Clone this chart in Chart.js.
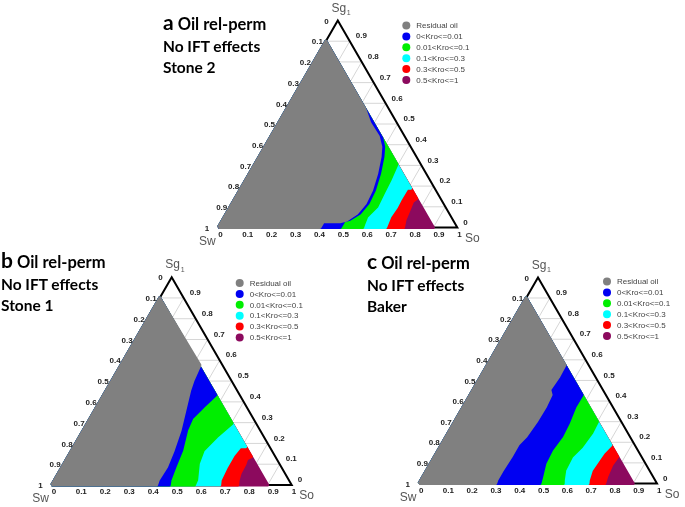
<!DOCTYPE html>
<html>
<head>
<meta charset="utf-8">
<script src="https://cdn.jsdelivr.net/npm/chart.js@4.4.0/dist/chart.umd.min.js"></script>
<style>
  body { margin: 0; background: #fff; width: 685px; height: 507px; position: relative; overflow: hidden; }
  canvas { position: absolute; left: 0; top: 0; }
  .title { position: absolute; font-family: Lato, sans-serif; font-weight: 700; font-size: 15.5px; line-height: 21.5px; color: #000; white-space: nowrap; }
  .title .first { font-size: 16.5px; }
  .title .big { font-size: 21px; }
</style>
</head>
<body>
<canvas id="chartA" width="685" height="507"></canvas>
<canvas id="chartB" width="685" height="507"></canvas>
<canvas id="chartC" width="685" height="507"></canvas>

<div class="title" style="left:163px;top:11px"><div class="first"><span class="big">a</span> Oil rel-perm</div><div>No IFT effects</div><div>Stone 2</div></div>
<div class="title" style="left:1px;top:249px"><div class="first"><span class="big">b</span> Oil rel-perm</div><div>No IFT effects</div><div>Stone 1</div></div>
<div class="title" style="left:367px;top:250px"><div class="first"><span class="big">c</span> Oil rel-perm</div><div>No IFT effects</div><div>Baker</div></div>

<script>
const H = Math.sqrt(3) / 2;

// Tick values shared by the three axes
const tickValues = [0, 0.1, 0.2, 0.3, 0.4, 0.5, 0.6, 0.7, 0.8, 0.9, 1];
const tickText = ['0', '0.1', '0.2', '0.3', '0.4', '0.5', '0.6', '0.7', '0.8', '0.9', '1'];

const legendLabels = ['Residual oil', '0<Kro<=0.01', '0.01<Kro<=0.1', '0.1<Kro<=0.3', '0.3<Kro<=0.5', '0.5<Kro<=1'];
const regionColors = ['#808080', '#0000f2', '#00ee00', '#00ffff', '#ff0000', '#8c0a5e'];

// Connate water: domain is Sw >= 0.1, i.e. So + Sg <= 0.9
const domainEdge = [[0, 0], [0, 0.9], [0.9, 0]];

// Contour boundaries as [So, Sg] pairs, from the Sw=0.1 edge down to Sg=0
// Stone 2
const stone2Residual = [[0.325, 0.575], [0.383, 0.503], [0.45, 0.439], [0.485, 0.39], [0.506, 0.342], [0.532, 0.262], [0.551, 0.181], [0.556, 0.117], [0.545, 0.069], [0.519, 0.036], [0.495, 0.028], [0.425, 0.028], [0.425, 0]];
const stone2Kro001 = [[0.469, 0.431], [0.497, 0.39], [0.518, 0.342], [0.544, 0.262], [0.563, 0.181], [0.568, 0.117], [0.557, 0.069], [0.531, 0.04], [0.51, 0.032], [0.51, 0]];
const stone2Kro01 = [[0.595, 0.305], [0.604, 0.229], [0.608, 0.165], [0.613, 0.1], [0.595, 0.052], [0.6, 0.02], [0.604, 0]];
const stone2Kro03 = [[0.71, 0.19], [0.695, 0.19], [0.694, 0.133], [0.696, 0.1], [0.692, 0.052], [0.7, 0]];
const stone2Kro05 = [[0.76, 0.14], [0.75, 0.125], [0.755, 0.093], [0.763, 0.036], [0.775, 0]];

// Stone 1
const stone1Residual = [[0.329, 0.577], [0.337, 0.505], [0.347, 0.457], [0.375, 0.361], [0.403, 0.265], [0.423, 0.168], [0.435, 0.088], [0.432, 0.024], [0.437, 0]];
const stone1Kro001 = [[0.467, 0.433], [0.443, 0.377], [0.423, 0.321], [0.43, 0.265], [0.458, 0.168], [0.47, 0.088], [0.481, 0.024], [0.49, 0]];
const stone1Kro01 = [[0.603, 0.297], [0.571, 0.233], [0.548, 0.168], [0.559, 0.104], [0.592, 0.024], [0.595, 0]];
const stone1Kro03 = [[0.716, 0.184], [0.693, 0.184], [0.685, 0.144], [0.685, 0.088], [0.69, 0.024], [0.7, 0]];
const stone1Kro05 = [[0.764, 0.136], [0.75, 0.125], [0.755, 0.1], [0.757, 0.056], [0.765, 0.024], [0.775, 0]];

// Baker
const bakerResidual = [[0.326, 0.575], [0.328, 0.52], [0.322, 0.455], [0.34, 0.43], [0.345, 0.37], [0.343, 0.3], [0.335, 0.23], [0.322, 0.19], [0.322, 0.13], [0.318, 0.06], [0.318, 0.02], [0.322, 0]];
const bakerKro001 = [[0.47, 0.43], [0.469, 0.373], [0.481, 0.292], [0.485, 0.227], [0.476, 0.163], [0.48, 0.098], [0.5, 0.03], [0.508, 0]];
const bakerKro01 = [[0.6, 0.3], [0.603, 0.244], [0.594, 0.179], [0.576, 0.13], [0.58, 0.065], [0.598, 0.017], [0.606, 0]];
const bakerKro03 = [[0.713, 0.187], [0.7, 0.15], [0.697, 0.114], [0.692, 0.065], [0.703, 0.017], [0.71, 0]];
const bakerKro05 = [[0.77, 0.13], [0.765, 0.09], [0.772, 0.033], [0.78, 0]];

// ternary (So, Sg) -> cartesian, side length 1, Sw corner at origin
function toXY(pts) {
    return pts.map(([so, sg]) => ({ x: so + sg / 2, y: sg * H }));
}

function regionDataset(label, color, poly) {
    return {
        label, data: toXY(poly),
        showLine: true, fill: 'shape', tension: 0,
        backgroundColor: color, borderColor: color, borderWidth: 3,
        borderJoinStyle: 'round', pointRadius: 0
    };
}

function lineDataset(pts, color, width) {
    return {
        data: toXY(pts), showLine: true, fill: false, tension: 0,
        borderColor: color, borderWidth: width, pointRadius: 0
    };
}

function makeTernary(id, corner, side, bounds) {
    const [cx, cy] = corner;
    const datasets = [];

    // each region = everything on the Sw side of its boundary;
    // gray drawn on top, purple (whole domain) at the bottom
    bounds.forEach((b, i) => {
        datasets.push(regionDataset(legendLabels[i], regionColors[i], [[0, 0], [0, 0.9], ...b, [0, 0]]));
    });
    datasets.push(regionDataset(legendLabels[5], regionColors[5], [...domainEdge, [0, 0]]));

    // triangle frame
    datasets.push(lineDataset([[0, 0], [0, 1], [1, 0], [0, 0]], '#000', 2));

    // grid
    tickValues.slice(1, 10).forEach(v => {
        datasets.push(lineDataset([[0, v], [1 - v, v]], '#d6d6d6', 1));
        datasets.push(lineDataset([[v, 0], [v, 1 - v]], '#d6d6d6', 1));
        datasets.push(lineDataset([[1 - v, 0], [0, 1 - v]], '#d6d6d6', 1));
    });

    const decor = {
        id: 'ternaryDecor',
        afterDatasetsDraw(chart) {
            const { ctx, scales: { x, y } } = chart;
            const px = (so, sg) => [x.getPixelForValue(so + sg / 2), y.getPixelForValue(sg * H)];
            ctx.save();
            ctx.textBaseline = 'middle';
            ctx.font = 'bold 8px "Liberation Sans", Arial, sans-serif';
            ctx.fillStyle = '#222';

            // So along the bottom
            tickValues.forEach((v, i) => {
                const [X, Y] = px(v, 0);
                ctx.textAlign = 'left';
                ctx.fillText(tickText[i], X, Y + 7);
            });
            // Sw along the left edge (0 at the top)
            tickValues.forEach((w, i) => {
                const [X, Y] = px(0, 1 - w);
                ctx.textAlign = 'right';
                const off = (i === 0 || i === 10) ? 9 : 3;
                ctx.fillText(tickText[i], X - off, Y + 1);
            });
            // Sg along the right edge
            tickValues.slice(0, 10).forEach((g, i) => {
                const [X, Y] = px(1 - g, g);
                ctx.textAlign = 'left';
                ctx.fillText(tickText[i], X + 6, Y - 5);
            });

            // corner names
            ctx.font = '12px "Liberation Sans", Arial, sans-serif';
            ctx.fillStyle = '#555';
            ctx.textAlign = 'center';
            let [X, Y] = px(0, 0);
            ctx.fillText('Sw', X - 11, Y + 14);
            [X, Y] = px(1, 0);
            ctx.fillText('So', X + 15, Y + 11);
            [X, Y] = px(0, 1);
            ctx.fillText('Sg', X + 1, Y - 12);
            ctx.font = '7px "Liberation Sans", Arial, sans-serif';
            ctx.fillText('1', X + 11, Y - 7);

            // legend
            const [lx, ly] = [cx + 188, cy - 202];
            ctx.font = '8px "Liberation Sans", Arial, sans-serif';
            ctx.textAlign = 'left';
            legendLabels.forEach((lab, i) => {
                const yy = ly + i * 10.9;
                ctx.beginPath();
                ctx.arc(lx, yy, 4, 0, Math.PI * 2);
                ctx.fillStyle = regionColors[i];
                ctx.fill();
                ctx.fillStyle = '#444';
                ctx.fillText(lab, lx + 10, yy + 0.5);
            });
            ctx.restore();
        }
    };

    return new Chart(document.getElementById(id), {
        type: 'scatter',
        data: { datasets },
        options: {
            responsive: false,
            animation: false,
            events: [],
            layout: { padding: 0 },
            scales: {
                x: { type: 'linear', display: false, min: -cx / side, max: (685 - cx) / side },
                y: { type: 'linear', display: false, min: -(507 - cy) / side, max: cy / side }
            },
            plugins: { legend: { display: false }, tooltip: { enabled: false } }
        },
        plugins: [decor]
    });
}

makeTernary('chartA', [218.3, 227.5], 239, [stone2Residual, stone2Kro001, stone2Kro01, stone2Kro03, stone2Kro05]);
makeTernary('chartB', [51.7, 485], 240, [stone1Residual, stone1Kro001, stone1Kro01, stone1Kro03, stone1Kro05]);
makeTernary('chartC', [419, 483.5], 238, [bakerResidual, bakerKro001, bakerKro01, bakerKro03, bakerKro05]);
</script>
</body>
</html>
